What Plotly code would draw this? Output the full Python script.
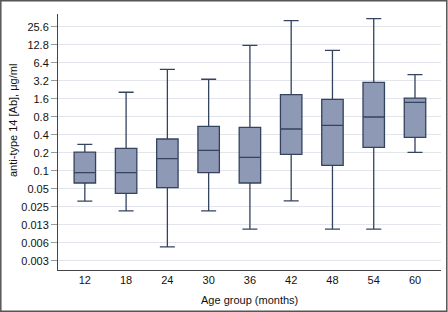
import plotly.graph_objects as go

ages = ["12", "18", "24", "30", "36", "42", "48", "54", "60"]
lower = [0.031, 0.0212, 0.0053, 0.0212, 0.0105, 0.0312, 0.0105, 0.0105, 0.203]
q1 = [0.0623, 0.0419, 0.0519, 0.0927, 0.0623, 0.188, 0.123, 0.246, 0.362]
median = [0.0927, 0.0927, 0.159, 0.219, 0.167, 0.498, 0.574, 0.79, 1.39]
q3 = [0.205, 0.237, 0.339, 0.553, 0.532, 1.87, 1.56, 3.01, 1.64]
upper = [0.276, 2.05, 4.96, 3.38, 12.5, 32.3, 10.3, 34.8, 4.03]

tick_vals = [0.003125, 0.00625, 0.0125, 0.025, 0.05, 0.1, 0.2, 0.4, 0.8, 1.6, 3.2, 6.4, 12.8, 25.6]
tick_text = ["0.003", "0.006", "0.013", "0.025", "0.05", "0.1", "0.2", "0.4", "0.8", "1.6", "3.2", "6.4", "12.8", "25.6"]

fig = go.Figure()
fig.add_trace(go.Box(
    x=ages, q1=q1, median=median, q3=q3, lowerfence=lower, upperfence=upper,
    fillcolor="#8E99B5", line=dict(color="#34435F", width=1.3),
    width=0.52, whiskerwidth=0.7, boxpoints=False, showlegend=False,
    hoverinfo="skip",
))

ml, mr, mt, mb = 58, 7, 14, 42
W, H = 448, 312
pw, ph = W - ml - mr, H - mt - mb

def px_x(x):
    return (x - ml) / pw

def px_y(y):
    return (H - mb - y) / ph

fig.update_layout(
    width=W, height=H,
    margin=dict(l=ml, r=mr, t=mt, b=mb, pad=0, autoexpand=False),
    paper_bgcolor="white", plot_bgcolor="white",
    font=dict(family="Liberation Sans, Arial, sans-serif", size=11, color="#111111"),
    xaxis=dict(
        type="category", range=[-0.65, 8.63], automargin=False,
        showline=True, linecolor="#444444", linewidth=1,
        ticks="", showgrid=False, zeroline=False,
        tickfont=dict(size=11),
    ),
    yaxis=dict(
        type="log", automargin=False,
        range=[-8.839 * 0.30103, 5.383 * 0.30103],
        tickvals=tick_vals, ticktext=tick_text,
        showline=True, linecolor="#444444", linewidth=1,
        ticks="outside", ticklen=6, tickcolor="#999999",
        showgrid=True, gridcolor="#E2E5EB", gridwidth=1,
        zeroline=False, tickfont=dict(size=11),
    ),
    annotations=[
        dict(text="Age group (months)", xref="paper", yref="paper",
             x=px_x(249), y=px_y(300), showarrow=False,
             xanchor="center", yanchor="middle", font=dict(size=11)),
        dict(text="anti-type 14 [Ab], μg/ml", xref="paper", yref="paper",
             x=px_x(13), y=px_y(121), showarrow=False, textangle=-90,
             xanchor="center", yanchor="middle", font=dict(size=11)),
    ],
)

fig.add_shape(
    type="rect", xref="paper", yref="paper",
    x0=(-ml + 0.8) / pw, x1=(pw + mr - 1.2) / pw,
    y0=(-mb + 0.8) / ph, y1=(ph + mt - 0.8) / ph,
    line=dict(color="#555555", width=1.5), fillcolor="rgba(0,0,0,0)",
    layer="above",
)

fig.write_html(
    "out.html",
    config={"displayModeBar": False, "staticPlot": True},
    post_script="document.body.style.margin='0';document.body.style.padding='0';",
)
